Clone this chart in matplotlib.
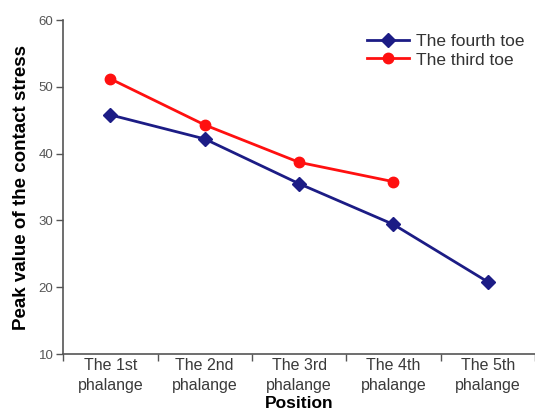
import numpy as np
import matplotlib
matplotlib.use("Agg")
import matplotlib.pyplot as plt

plt.rcParams['font.family'] = ['Liberation Sans', 'DejaVu Sans']

positions = ["The 1st\nphalange", "The 2nd\nphalange", "The 3rd\nphalange",
             "The 4th\nphalange", "The 5th\nphalange"]
fourth_toe = [45.8, 42.2, 35.5, 29.4, 20.8]
third_toe = [51.2, 44.3, 38.7, 35.8]

fig = plt.figure(figsize=(5.35, 4.17), dpi=100)
ax = fig.add_axes([0.118, 0.151, 0.882, 0.801])

x4 = np.arange(len(fourth_toe))
x3 = np.arange(len(third_toe))
ax.plot(x4, fourth_toe, color='#1c1c85', lw=2, marker='D', ms=7,
        label='The fourth toe')
ax.plot(x3, third_toe, color='#ff1010', lw=2, marker='o', ms=7.5,
        label='The third toe')

ax.set_xlim(-0.5, len(positions) - 0.5)
ax.set_ylim(10, 60)
ax.set_yticks([10, 20, 30, 40, 50, 60])

# category labels between boundary ticks
ax.set_xticks(np.arange(len(positions)))
ax.set_xticklabels(positions, fontsize=11.5, color='#3a3a3a', linespacing=1.4)
ax.tick_params(axis='x', which='major', length=0, pad=3)
ax.set_xticks(np.arange(-0.5, len(positions), 1.0), minor=True)
ax.tick_params(axis='x', which='minor', length=5, width=1, color='#555555',
               direction='out')
ax.tick_params(axis='y', length=5, width=1, color='#555555', labelsize=9.5,
               labelcolor='#555555', pad=2)

for s in ['top', 'right']:
    ax.spines[s].set_visible(False)
for s in ['left', 'bottom']:
    ax.spines[s].set_color('#555555')
    ax.spines[s].set_linewidth(1.2)

ax.set_ylabel('Peak value of the contact stress', fontsize=13.5,
              fontweight='bold', labelpad=6)
ax.set_xlabel('Position', fontsize=12.5, fontweight='bold', labelpad=2)

ax.legend(loc='upper right', bbox_to_anchor=(1.0, 0.99), frameon=False,
          fontsize=12.5, handlelength=2.4, handletextpad=0.4,
          labelspacing=0.2, borderaxespad=0.2, labelcolor='#333333')

fig.savefig('out.png', dpi=100)
